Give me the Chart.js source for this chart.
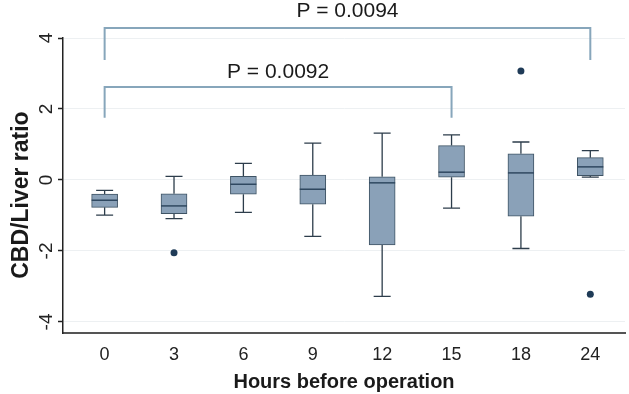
<!DOCTYPE html>
<html><head><meta charset="utf-8">
<script src="https://cdn.jsdelivr.net/npm/chart.js@4.4.1/dist/chart.umd.min.js"></script>
<style>html,body{margin:0;padding:0;background:#fff;}canvas{display:block;}</style>
</head><body>
<canvas id="c" width="629" height="394"></canvas>
<script>
// ---- data ----
const hours = ['0', '3', '6', '9', '12', '15', '18', '24'];
const whiskerHigh = [-0.29, 0.10, 0.47, 1.04, 1.32, 1.27, 1.07, 0.83];
const upperQuartile = [-0.40, -0.39, 0.10, 0.14, 0.09, 0.97, 0.74, 0.63];
const medians = [-0.57, -0.73, -0.12, -0.26, -0.08, 0.22, 0.20, 0.37];
const lowerQuartile = [-0.77, -0.95, -0.40, -0.68, -1.83, 0.08, -1.02, 0.12];
const whiskerLow = [-0.99, -1.09, -0.91, -1.59, -3.28, -0.79, -1.93, 0.08];
const outlierGroup = [1, 6, 7];
const outlierValue = [-2.05, 3.07, -3.22];
const yTicks = [-4, -2, 0, 2, 4];
const bracketFrom = [0, 0];
const bracketTo = [5, 7];
const bracketTop = [2.62, 4.28];
const bracketLegEnd = [1.75, 3.38];
const bracketLabel = ['P = 0.0092', 'P = 0.0094'];
const bracketLabelY = [2.86, 4.58];

const SANS = "'Liberation Sans', Arial, Helvetica, sans-serif";

const boxData = hours.map((h, i) => ({x: i, y: [lowerQuartile[i], upperQuartile[i]]}));
const outlierData = outlierGroup.map((g, i) => ({x: g, y: outlierValue[i]}));

const boxParts = {
  id: 'boxParts',
  beforeDatasetsDraw(chart) {
    const {ctx, scales: {x, y}} = chart;
    ctx.save();
    ctx.strokeStyle = '#2d3d4b';
    ctx.lineWidth = 1.3;
    hours.forEach((h, i) => {
      const px = x.getPixelForValue(i);
      const segs = [[upperQuartile[i], whiskerHigh[i]], [lowerQuartile[i], whiskerLow[i]]];
      segs.forEach(([a, b]) => {
        const ya = y.getPixelForValue(a), yb = y.getPixelForValue(b);
        ctx.beginPath();
        ctx.moveTo(px, ya); ctx.lineTo(px, yb);
        ctx.moveTo(px - 8.5, yb); ctx.lineTo(px + 8.5, yb);
        ctx.stroke();
      });
    });
    ctx.restore();
  },
  afterDatasetsDraw(chart) {
    const {ctx, scales: {x, y}} = chart;
    ctx.save();
    ctx.strokeStyle = '#2f4860';
    ctx.lineWidth = 1.5;
    hours.forEach((h, i) => {
      const px = x.getPixelForValue(i);
      const py = y.getPixelForValue(medians[i]);
      ctx.beginPath();
      ctx.moveTo(px - 13, py); ctx.lineTo(px + 13, py);
      ctx.stroke();
    });
    ctx.strokeStyle = '#87a6bb';
    ctx.lineWidth = 2;
    ctx.fillStyle = '#1a1a1a';
    ctx.font = '21px ' + SANS;
    ctx.textAlign = 'center';
    ctx.textBaseline = 'alphabetic';
    bracketFrom.forEach((f, k) => {
      const x1 = x.getPixelForValue(f), x2 = x.getPixelForValue(bracketTo[k]);
      const yt = y.getPixelForValue(bracketTop[k]), yl = y.getPixelForValue(bracketLegEnd[k]);
      ctx.beginPath();
      ctx.moveTo(x1, yl); ctx.lineTo(x1, yt); ctx.lineTo(x2, yt); ctx.lineTo(x2, yl);
      ctx.stroke();
      ctx.fillText(bracketLabel[k], (x1 + x2) / 2, y.getPixelForValue(bracketLabelY[k]));
    });
    ctx.restore();
  }
};

new Chart(document.getElementById('c'), {
  type: 'bar',
  data: {
    datasets: [
      {
        data: boxData,
        backgroundColor: '#8aa1b8',
        borderColor: '#3e5364',
        borderWidth: 1,
        borderSkipped: false,
        barThickness: 26
      },
      {
        type: 'scatter',
        data: outlierData,
        backgroundColor: '#1f3b57',
        borderColor: '#1f3b57',
        pointRadius: 3.5,
        pointBorderWidth: 0
      }
    ]
  },
  options: {
    responsive: false,
    devicePixelRatio: 1,
    animation: false,
    layout: {padding: {top: 38, right: 2, left: 0, bottom: 0}},
    plugins: {legend: {display: false}, tooltip: {enabled: false}},
    scales: {
      x: {
        type: 'linear',
        offset: false,
        min: -0.6,
        max: 7.5,
        afterBuildTicks: s => { s.ticks = hours.map((h, i) => ({value: i})); },
        afterFit: s => { s.height = 61; },
        grid: {display: false, drawTicks: false, offset: false},
        border: {display: true, color: '#555', width: 2},
        ticks: {
          callback: v => hours[v],
          color: '#222',
          font: {family: SANS, size: 18},
          padding: 11,
          maxRotation: 0, minRotation: 0
        },
        title: {
          display: true,
          text: 'Hours before operation',
          color: '#1a1a1a',
          font: {family: SANS, size: 20, weight: 'bold', lineHeight: 1},
          padding: {top: 0, bottom: 2}
        }
      },
      y: {
        min: -4.31,
        max: 4,
        afterBuildTicks: s => { s.ticks = yTicks.map(v => ({value: v})); },
        afterFit: s => { s.width = 63; },
        grid: {color: '#edf0f2', lineWidth: 1, drawTicks: true, tickLength: 5, tickColor: '#222', tickWidth: 1.5},
        border: {display: true, color: '#222', width: 1.5},
        ticks: {
          color: '#222',
          font: {family: SANS, size: 19},
          padding: 3,
          crossAlign: 'center',
          minRotation: 90, maxRotation: 90
        },
        title: {
          display: true,
          text: 'CBD/Liver ratio   ',
          color: '#1a1a1a',
          font: {family: SANS, size: 23, weight: 'bold', lineHeight: 1},
          padding: {top: 10, bottom: 0}
        }
      }
    }
  },
  plugins: [boxParts]
});
</script>
</body></html>
